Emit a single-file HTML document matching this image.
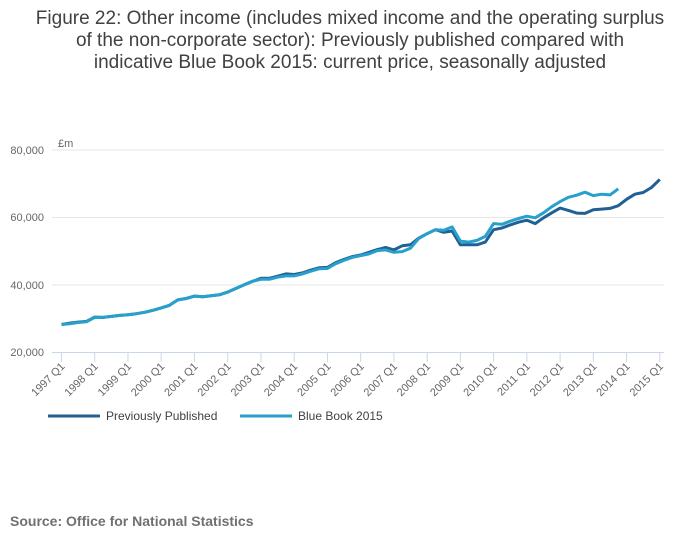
<!DOCTYPE html>
<html><head><meta charset="utf-8"><style>
body{margin:0;background:#fff;width:700px;height:549px;overflow:hidden;font-family:"Liberation Sans",sans-serif}
</style></head><body>
<svg id="s" width="700" height="549" xmlns="http://www.w3.org/2000/svg" font-family="Liberation Sans, sans-serif">
<g font-size="19" fill="#414042" text-anchor="middle">
<text x="350" y="24">Figure 22: Other income (includes mixed income and the operating surplus</text>
<text x="350" y="46">of the non-corporate sector): Previously published compared with</text>
<text x="350" y="68">indicative Blue Book 2015: current price, seasonally adjusted</text>
</g>
<text x="58" y="147" font-size="11" fill="#666">£m</text>
<g stroke="#e6e6e6" stroke-width="1">
<line x1="52" x2="664" y1="150" y2="150"/><line x1="52" x2="664" y1="217.5" y2="217.5"/><line x1="52" x2="664" y1="285" y2="285"/>
</g>
<line x1="52" x2="664" y1="352.5" y2="352.5" stroke="#ccd6eb"/>
<g font-size="11" fill="#666" text-anchor="end">
<text x="44" y="154">80,000</text><text x="44" y="221">60,000</text><text x="44" y="289">40,000</text><text x="44" y="356">20,000</text>
</g>
<g id="ticks"></g>
<polyline id="pp" fill="none" stroke="#206095" stroke-width="3" stroke-linejoin="round"/>
<polyline id="bb" fill="none" stroke="#27a0cc" stroke-width="3" stroke-linejoin="round"/>
<line x1="48" x2="100" y1="416" y2="416" stroke="#206095" stroke-width="3"/>
<text x="106" y="420" font-size="12" fill="#414042">Previously Published</text>
<line x1="240" x2="292" y1="416" y2="416" stroke="#27a0cc" stroke-width="3"/>
<text x="298" y="420" font-size="12" fill="#414042">Blue Book 2015</text>
<text x="10" y="526" font-size="14" font-weight="bold" fill="#707071">Source: Office for National Statistics</text>
</svg>
<script>
var common=[28.3,28.7,29.0,29.2,30.5,30.4,30.7,31.0,31.2,31.5,31.9,32.5,33.2,34.0,35.6,36.0,36.7,36.5,36.8,37.1,37.9,39.0,40.1,41.1,42.0,42.0,42.6,43.3,43.1,43.6,44.4,45.1,45.2,46.6,47.6];
var pp=common.concat([48.4,48.9,49.7,50.5,51.1,50.4,51.6,51.9,53.9,55.2,56.4,55.6,56.0,51.9,51.9,51.9,52.7,56.4,56.9,57.8,58.6,59.2,58.2,59.9,61.4,62.8,62.1,61.3,61.2,62.3,62.5,62.7,63.5,65.4,66.9,67.4,68.9,71.3]);
var bbOff=[0,0.2,0.1,0.1,0.1,0,0,0,0,0,0,0,0,0,0,0,0,0,0,0,0,0,0,0,0.3,0.3,0.3,0.6,0.4,0.3,0.3,0.3,0.3,0.3,0.3];
var bb=common.map(function(v,i){return v-bbOff[i];}).concat([48.2,48.7,49.2,50.2,50.4,49.7,49.9,50.9,53.8,55.2,56.4,56.2,57.2,53.0,52.7,53.2,54.4,58.2,58.0,58.9,59.7,60.4,59.9,61.4,63.2,64.7,66.0,66.6,67.5,66.5,66.9,66.7,68.5]);
function X(q){return 61.5+q*8.31;}function Y(v){return 352.5-(v-20)*3.375;}
function pts(a){return a.map(function(v,i){return X(i).toFixed(1)+','+Y(v).toFixed(1);}).join(' ');}
document.getElementById('pp').setAttribute('points',pts(pp));
document.getElementById('bb').setAttribute('points',pts(bb));
var g=document.getElementById('ticks'),h='';
for(var y=1997;y<=2015;y++){var x=X((y-1997)*4);
h+='<line x1="'+x+'" x2="'+x+'" y1="352.5" y2="362" stroke="#ccd6eb"/>';
h+='<text font-size="11" fill="#666" text-anchor="end" transform="translate('+(x+4)+',367) rotate(-45)">'+y+' Q1</text>';}
g.innerHTML=h;
</script>
</body></html>
